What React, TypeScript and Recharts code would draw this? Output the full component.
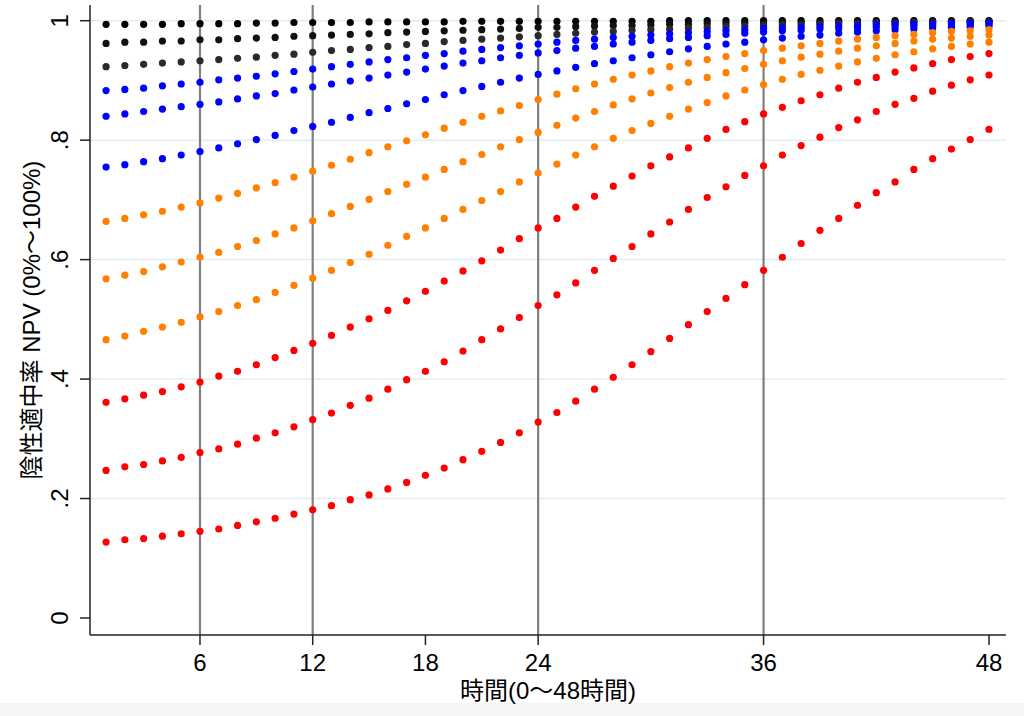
import React from "react"
import { ScatterChart, Scatter, XAxis, YAxis, ReferenceLine } from "recharts"

// 時間 (hours 1..48)
const hours = [
  1, 2, 3, 4, 5, 6, 7, 8, 9, 10, 11, 12, 13, 14, 15, 16, 17, 18, 19, 20, 21, 22, 23, 24,
  25, 26, 27, 28, 29, 30, 31, 32, 33, 34, 35, 36, 37, 38, 39, 40, 41, 42, 43, 44, 45, 46, 47, 48,
]

const xTicks = [6, 12, 18, 24, 36, 48]
const yTicks = [0, 0.2, 0.4, 0.6, 0.8, 1]
const yTickLabels = ["0", ".2", ".4", ".6", ".8", "1"]
const vLines = [6, 12, 24, 36]
const hGrid = [0.2, 0.4, 0.6, 0.8, 1]

// NPV curves (black, blue, orange, red groups, top to bottom)
const black1 = [
  0.994, 0.994, 0.994, 0.994, 0.995, 0.995, 0.995, 0.995, 0.996, 0.996, 0.997, 0.997, 0.997, 0.997, 0.998, 0.998,
  0.998, 0.998, 0.998, 0.999, 0.999, 0.999, 0.999, 0.999, 0.999, 0.999, 0.999, 0.999, 0.999, 0.999, 1.0, 1.0,
  1.0, 1.0, 1.0, 1.0, 1.0, 1.0, 1.0, 1.0, 1.0, 1.0, 1.0, 1.0, 1.0, 1.0, 1.0, 1.0,
]
const black2 = [
  0.962, 0.964, 0.964, 0.966, 0.966, 0.968, 0.968, 0.97, 0.971, 0.972, 0.974, 0.975, 0.976, 0.977, 0.978, 0.98,
  0.981, 0.982, 0.983, 0.984, 0.985, 0.986, 0.987, 0.989, 0.989, 0.99, 0.991, 0.992, 0.992, 0.993, 0.994, 0.994,
  0.995, 0.995, 0.996, 0.996, 0.997, 0.997, 0.997, 0.998, 0.998, 0.998, 0.998, 0.998, 0.999, 0.999, 0.999, 0.999,
]
const black3 = [
  0.923, 0.925, 0.927, 0.929, 0.931, 0.933, 0.935, 0.937, 0.939, 0.942, 0.944, 0.947, 0.95, 0.952, 0.955, 0.957,
  0.96, 0.962, 0.965, 0.967, 0.969, 0.971, 0.973, 0.975, 0.977, 0.979, 0.981, 0.982, 0.984, 0.985, 0.986, 0.988,
  0.989, 0.99, 0.991, 0.992, 0.993, 0.993, 0.994, 0.995, 0.995, 0.996, 0.996, 0.997, 0.997, 0.997, 0.998, 0.998,
]
const blue1 = [
  0.883, 0.885, 0.887, 0.891, 0.894, 0.897, 0.901, 0.904, 0.907, 0.911, 0.915, 0.919, 0.923, 0.927, 0.931, 0.935,
  0.938, 0.942, 0.945, 0.949, 0.952, 0.955, 0.958, 0.961, 0.964, 0.967, 0.969, 0.972, 0.974, 0.976, 0.978, 0.98,
  0.982, 0.984, 0.985, 0.987, 0.988, 0.989, 0.99, 0.991, 0.992, 0.993, 0.994, 0.994, 0.995, 0.996, 0.996, 0.997,
]
const blue2 = [
  0.84, 0.844, 0.848, 0.852, 0.856, 0.86, 0.864, 0.869, 0.874, 0.878, 0.884, 0.889, 0.894, 0.899, 0.904, 0.909,
  0.914, 0.919, 0.924, 0.929, 0.933, 0.938, 0.942, 0.946, 0.95, 0.954, 0.957, 0.961, 0.964, 0.967, 0.97, 0.972,
  0.975, 0.977, 0.979, 0.981, 0.983, 0.984, 0.986, 0.987, 0.988, 0.989, 0.99, 0.991, 0.992, 0.993, 0.994, 0.994,
]
const blue3 = [
  0.755, 0.759, 0.764, 0.769, 0.775, 0.781, 0.787, 0.794, 0.801, 0.808, 0.816, 0.823, 0.83, 0.838, 0.846, 0.853,
  0.861, 0.868, 0.876, 0.883, 0.89, 0.897, 0.904, 0.91, 0.916, 0.922, 0.928, 0.933, 0.938, 0.943, 0.948, 0.953,
  0.957, 0.961, 0.964, 0.968, 0.971, 0.974, 0.976, 0.979, 0.981, 0.983, 0.985, 0.986, 0.988, 0.989, 0.99, 0.991,
]
const orange1 = [
  0.664, 0.669, 0.675, 0.681, 0.688, 0.695, 0.703, 0.711, 0.72, 0.729, 0.738, 0.748, 0.758, 0.768, 0.779, 0.789,
  0.799, 0.809, 0.82, 0.83, 0.84, 0.849, 0.858, 0.868, 0.877, 0.886, 0.894, 0.902, 0.909, 0.916, 0.923, 0.929,
  0.935, 0.94, 0.945, 0.95, 0.954, 0.958, 0.962, 0.966, 0.969, 0.972, 0.975, 0.977, 0.98, 0.982, 0.983, 0.985,
]
const orange2 = [
  0.568, 0.574, 0.58, 0.588, 0.596, 0.604, 0.612, 0.622, 0.632, 0.643, 0.653, 0.665, 0.677, 0.689, 0.701, 0.714,
  0.726, 0.738, 0.751, 0.764, 0.776, 0.789, 0.801, 0.813, 0.825, 0.837, 0.848, 0.859, 0.869, 0.879, 0.888, 0.897,
  0.905, 0.913, 0.92, 0.927, 0.933, 0.939, 0.944, 0.949, 0.954, 0.958, 0.962, 0.966, 0.969, 0.971, 0.974, 0.976,
]
const orange3 = [
  0.466, 0.472, 0.48, 0.487, 0.495, 0.504, 0.513, 0.523, 0.533, 0.545, 0.557, 0.569, 0.582, 0.595, 0.609, 0.624,
  0.639, 0.653, 0.669, 0.684, 0.699, 0.714, 0.73, 0.745, 0.76, 0.775, 0.789, 0.803, 0.816, 0.828, 0.84, 0.852,
  0.863, 0.874, 0.884, 0.893, 0.902, 0.91, 0.917, 0.924, 0.931, 0.937, 0.943, 0.948, 0.953, 0.957, 0.961, 0.964,
]
const red1 = [
  0.361, 0.367, 0.373, 0.379, 0.387, 0.395, 0.405, 0.413, 0.424, 0.436, 0.448, 0.46, 0.473, 0.487, 0.501, 0.515,
  0.531, 0.547, 0.564, 0.581, 0.598, 0.616, 0.635, 0.653, 0.669, 0.688, 0.706, 0.723, 0.74, 0.757, 0.772, 0.787,
  0.803, 0.818, 0.831, 0.844, 0.855, 0.866, 0.876, 0.887, 0.897, 0.905, 0.914, 0.921, 0.928, 0.935, 0.94, 0.945,
]
const red2 = [
  0.247, 0.253, 0.257, 0.263, 0.269, 0.277, 0.283, 0.291, 0.301, 0.31, 0.32, 0.332, 0.343, 0.356, 0.368, 0.383,
  0.399, 0.413, 0.429, 0.447, 0.466, 0.484, 0.503, 0.523, 0.541, 0.561, 0.582, 0.602, 0.622, 0.643, 0.663, 0.684,
  0.704, 0.722, 0.741, 0.757, 0.775, 0.791, 0.805, 0.821, 0.834, 0.848, 0.86, 0.87, 0.882, 0.892, 0.901, 0.909,
]
const red3 = [
  0.127, 0.131, 0.133, 0.137, 0.141, 0.145, 0.149, 0.155, 0.161, 0.167, 0.174, 0.181, 0.188, 0.198, 0.206, 0.216,
  0.227, 0.239, 0.251, 0.265, 0.279, 0.294, 0.31, 0.328, 0.344, 0.363, 0.383, 0.403, 0.424, 0.446, 0.468, 0.491,
  0.513, 0.535, 0.558, 0.582, 0.604, 0.627, 0.649, 0.669, 0.691, 0.712, 0.73, 0.751, 0.769, 0.785, 0.801, 0.818,
]

const series = [
  { name: "black1", color: "#000000", values: black1 },
  { name: "black2", color: "#111111", values: black2 },
  { name: "black3", color: "#2a2a2a", values: black3 },
  { name: "blue1", color: "#0000ff", values: blue1 },
  { name: "blue2", color: "#0000ff", values: blue2 },
  { name: "blue3", color: "#0000ff", values: blue3 },
  { name: "orange1", color: "#ff7f00", values: orange1 },
  { name: "orange2", color: "#ff7f00", values: orange2 },
  { name: "orange3", color: "#ff7f00", values: orange3 },
  { name: "red1", color: "#ff0000", values: red1 },
  { name: "red2", color: "#ff0000", values: red2 },
  { name: "red3", color: "#ff0000", values: red3 },
]

const FONT = '"Liberation Sans", Arial, "Noto Sans CJK JP", sans-serif'
const AXIS = "#222"

const XTick = ({ x, payload }: any) => (
  <text x={x} y={671} textAnchor="middle" fontSize={24} fontFamily={FONT} fill="#000">
    {payload.value}
  </text>
)

const YTick = ({ y, payload }: any) => {
  const i = yTicks.indexOf(payload.value)
  return (
    <text
      x={60}
      y={y}
      transform={`rotate(-90 60 ${y})`}
      textAnchor="middle"
      dominantBaseline="central"
      fontSize={24}
      fontFamily={FONT}
      fill="#000"
    >
      {yTickLabels[i]}
    </text>
  )
}

export default function App() {
  return (
    <div style={{ position: "absolute", left: 0, top: 0, width: 1024, height: 716, background: "#fff" }}>
      <div style={{ position: "absolute", left: 0, top: 703, width: 1024, height: 13, background: "#f6f6f6" }} />
      <div style={{ position: "absolute", left: 0, top: 0 }}>
        <ScatterChart width={1024} height={716} margin={{ top: 5, right: 18, left: 0, bottom: 0 }}>
          <XAxis
            type="number"
            dataKey="x"
            domain={[0.145, 48.905]}
            ticks={xTicks}
            allowDataOverflow
            height={81}
            tickSize={10}
            axisLine={{ stroke: AXIS, strokeWidth: 1.5 }}
            tickLine={{ stroke: AXIS, strokeWidth: 1.5 }}
            tick={<XTick />}
            label={{
              content: () => (
                <text x={548} y={699} textAnchor="middle" fontSize={24} fontFamily={FONT} fill="#000">
                  時間(0〜48時間)
                </text>
              ),
            }}
          />
          <YAxis
            type="number"
            dataKey="y"
            domain={[-0.0285, 1.0263]}
            ticks={yTicks}
            allowDataOverflow
            width={90}
            tickSize={10}
            axisLine={{ stroke: AXIS, strokeWidth: 1.5 }}
            tickLine={{ stroke: AXIS, strokeWidth: 1.5 }}
            tick={<YTick />}
            label={{
              content: () => (
                <text
                  x={31}
                  y={320}
                  transform="rotate(-90 31 320)"
                  textAnchor="middle"
                  dominantBaseline="central"
                  fontSize={24}
                  fontFamily={FONT}
                  fill="#000"
                >
                  陰性適中率 NPV (0%〜100%)
                </text>
              ),
            }}
          />
          {hGrid.map((v) => (
            <ReferenceLine key={"h" + v} y={v} stroke="#e4eded" strokeWidth={1.5} />
          ))}
          {vLines.map((v) => (
            <ReferenceLine key={"v" + v} x={v} stroke="#7f7f7f" strokeWidth={2.2} />
          ))}
          {series.map((s) => (
            <Scatter
              key={s.name}
              name={s.name}
              data={hours.map((h, i) => ({ x: h, y: s.values[i] }))}
              isAnimationActive={false}
              shape={(p: any) => <circle cx={p.cx} cy={p.cy} r={3.6} fill={s.color} />}
            />
          ))}
        </ScatterChart>
      </div>
    </div>
  )
}
